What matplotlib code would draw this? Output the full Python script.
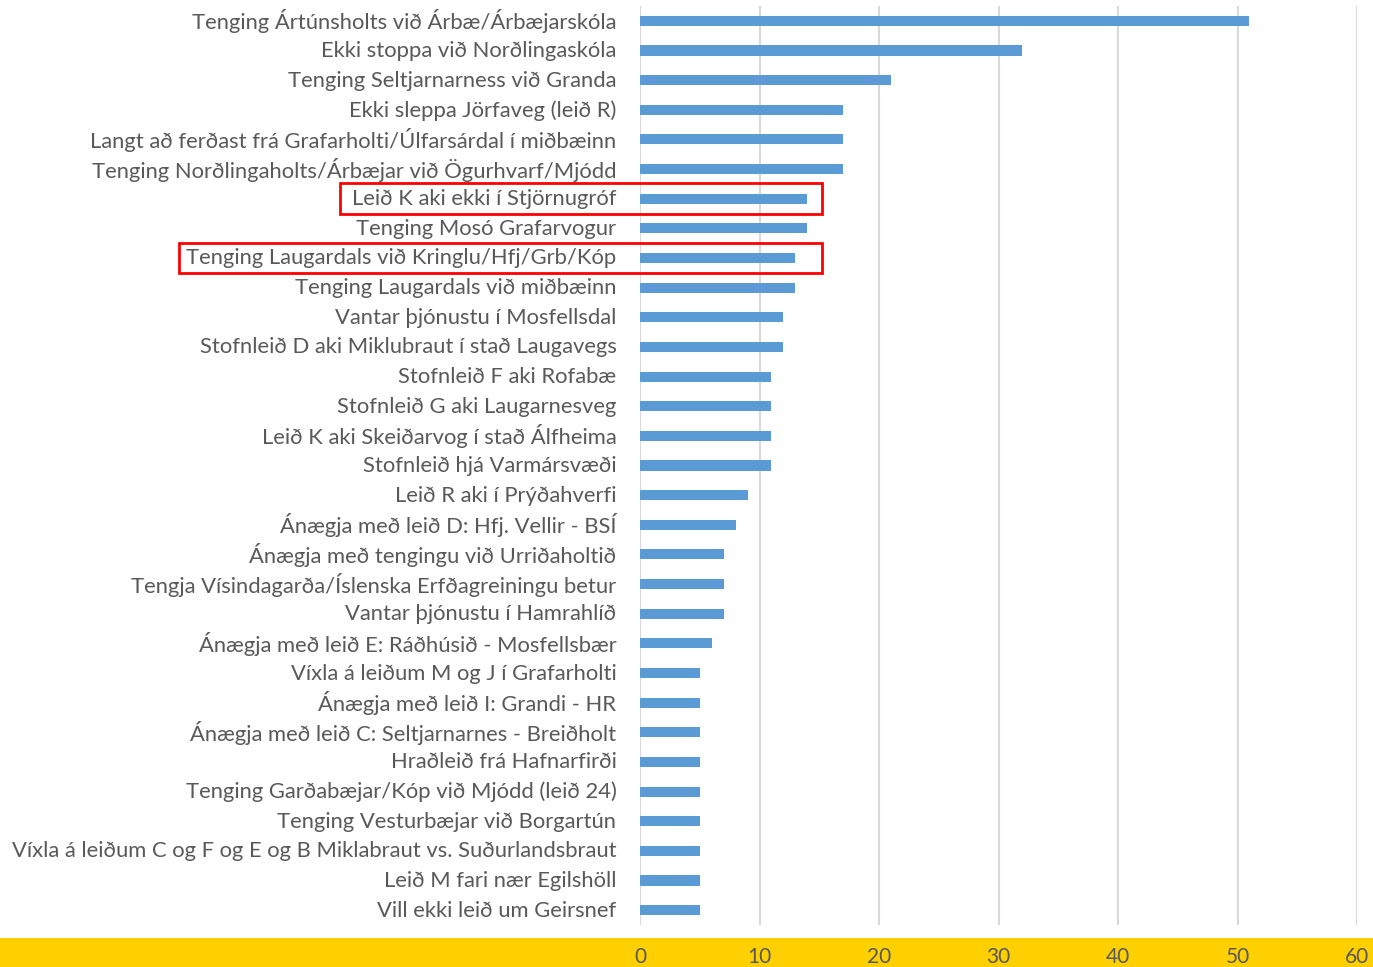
import matplotlib
matplotlib.use("Agg")
import matplotlib.pyplot as plt
from matplotlib.patches import Rectangle
from matplotlib.transforms import blended_transform_factory, ScaledTranslation

categories = [
    "Tenging Ártúnsholts við Árbæ/Árbæjarskóla",
    "Ekki stoppa við Norðlingaskóla",
    "Tenging Seltjarnarness við Granda",
    "Ekki sleppa Jörfaveg (leið R)",
    "Langt að ferðast frá Grafarholti/Úlfarsárdal í miðbæinn",
    "Tenging Norðlingaholts/Árbæjar við Ögurhvarf/Mjódd",
    "Leið K aki ekki í Stjörnugróf",
    "Tenging Mosó Grafarvogur",
    "Tenging Laugardals við Kringlu/Hfj/Grb/Kóp",
    "Tenging Laugardals við miðbæinn",
    "Vantar þjónustu í Mosfellsdal",
    "Stofnleið D aki Miklubraut í stað Laugavegs",
    "Stofnleið F aki Rofabæ",
    "Stofnleið G aki Laugarnesveg",
    "Leið K aki Skeiðarvog í stað Álfheima",
    "Stofnleið hjá Varmársvæði",
    "Leið R aki í Prýðahverfi",
    "Ánægja með leið D: Hfj. Vellir - BSÍ",
    "Ánægja með tengingu við Urriðaholtið",
    "Tengja Vísindagarða/Íslenska Erfðagreiningu betur",
    "Vantar þjónustu í Hamrahlíð",
    "Ánægja með leið E: Ráðhúsið - Mosfellsbær",
    "Víxla á leiðum M og J í Grafarholti",
    "Ánægja með leið I: Grandi - HR",
    "Ánægja með leið C: Seltjarnarnes - Breiðholt",
    "Hraðleið frá Hafnarfirði",
    "Tenging Garðabæjar/Kóp við Mjódd (leið 24)",
    "Tenging Vesturbæjar við Borgartún",
    "Víxla á leiðum C og F og E og B Miklabraut vs. Suðurlandsbraut",
    "Leið M fari nær Egilshöll",
    "Vill ekki leið um Geirsnef",
]
counts = [51, 32, 21, 17, 17, 17, 14, 14, 13, 13, 12, 12, 11, 11, 11, 11,
          9, 8, 7, 7, 7, 6, 5, 5, 5, 5, 5, 5, 5, 5, 5]
highlighted = ["Leið K aki ekki í Stjörnugróf",
               "Tenging Laugardals við Kringlu/Hfj/Grb/Kóp"]

plt.rcParams["font.family"] = ["Lato", "DejaVu Sans"]
text_color = "#595959"

fig = plt.figure(figsize=(13.73, 9.67), dpi=100)
ax = fig.add_axes([640 / 1373, 1 - 925 / 967, 717 / 1373, 919 / 967])

y = list(range(len(categories)))
ax.barh(y, counts, height=0.34, color="#5B9BD5", zorder=3)
ax.set_yticks(y)
ax.set_yticklabels(categories, fontsize=15.8, color=text_color)
ax.set_ylim(len(categories) - 0.5, -0.5)
ax.set_xlim(0, 60)
ax.set_xticks(range(0, 61, 10))
ax.tick_params(axis="x", labelsize=15, labelcolor=text_color, length=0, pad=16)
ax.tick_params(axis="y", length=0, pad=17)
ax.grid(axis="x", color="#D9D9D9", linewidth=1.5, zorder=0)
for s in ax.spines.values():
    s.set_visible(False)

# nudge category labels up a little
shift = ScaledTranslation(0, 1.5 / 100, fig.dpi_scale_trans)
for lab in ax.get_yticklabels():
    lab.set_transform(lab.get_transform() + shift)

# yellow band at the bottom
fig.patches.append(Rectangle((0, 0), 1, 29 / 967, transform=fig.transFigure,
                             facecolor="#FFD000", edgecolor="none", zorder=-1))

# red boxes around highlighted rows
trans = blended_transform_factory(fig.transFigure, ax.transData)
box_left = {highlighted[0]: 340 / 1373, highlighted[1]: 179 / 1373}
for name in highlighted:
    i = categories.index(name)
    x0 = box_left[name]
    ax.add_patch(Rectangle((x0, i - 0.52), 822 / 1373 - x0, 1.04, transform=trans,
                           fill=False, edgecolor="#FF0000", linewidth=2, clip_on=False,
                           zorder=5))

fig.savefig("out.png", dpi=100)
